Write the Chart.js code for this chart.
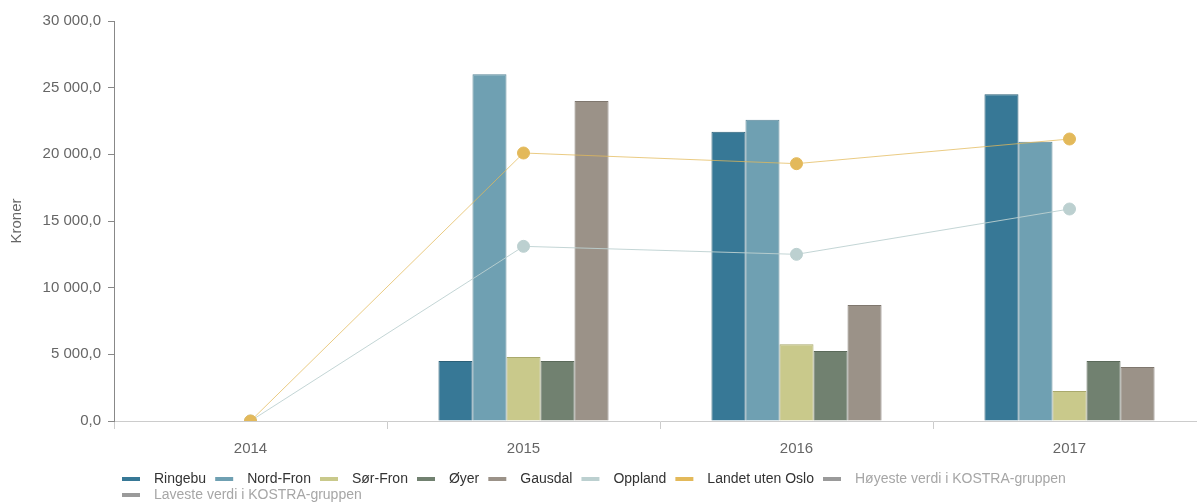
<!DOCTYPE html>
<html lang="no">
<head>
    <meta charset="UTF-8">
    <title>Kroner per år</title>
    <script src="https://cdn.jsdelivr.net/npm/chart.js"></script>
    <style>
        html, body {
            margin: 0;
            padding: 0;
            overflow: hidden;
            background: #fff;
        }
        #kostraChart {
            display: block;
            width: 1206px;
            height: 513px;
        }
    </style>
</head>
<body>

    <canvas id="kostraChart" width="1206" height="513"></canvas>

    <script>
        // Data
        const years = ["2014", "2015", "2016", "2017"];
        const ringebu = [null, 4500, 21700, 24500];
        const nordFron = [null, 26000, 22600, 20950];
        const sorFron = [null, 4800, 5750, 2250];
        const oyer = [null, 4500, 5250, 4500];
        const gausdal = [null, 24000, 8700, 4050];
        const oppland = [0, 13100, 12500, 15900];
        const landetUtenOslo = [0, 20100, 19300, 21150];
        const hoyesteVerdi = [null, null, null, null];
        const lavesteVerdi = [null, null, null, null];
        const yMax = 30000;
        const yStep = 5000;

        const FONT = "'Liberation Sans', Arial, sans-serif";

        // 30 000,0 style numbers
        function formatKroner(v) {
            const parts = v.toFixed(1).split(".");
            return parts[0].replace(/\B(?=(\d{3})+(?!\d))/g, " ") + "," + parts[1];
        }

        // legend marker: short thick line with some room on both sides
        function legendLine(color) {
            const c = document.createElement("canvas");
            c.width = 32;
            c.height = 4;
            const g = c.getContext("2d");
            g.fillStyle = color;
            g.fillRect(7, 0, 18, 4);
            return c;
        }

        function bar(label, data, fill, border) {
            return {
                type: "bar",
                label: label,
                data: data,
                backgroundColor: fill,
                borderColor: border,
                borderWidth: 1,
                legendColor: fill,
                order: 1
            };
        }

        function line(label, data, lineColor, pointColor, order) {
            return {
                type: "line",
                label: label,
                data: data,
                borderColor: lineColor,
                borderWidth: 1,
                backgroundColor: pointColor,
                pointBackgroundColor: pointColor,
                pointBorderColor: pointColor,
                pointBorderWidth: 1,
                pointRadius: 6,
                tension: 0,
                fill: false,
                clip: 0,
                legendColor: pointColor,
                order: order
            };
        }

        const datasets = [
            bar("Ringebu", ringebu, "#377896", "#2b6078"),
            bar("Nord-Fron", nordFron, "#6fa0b2", "#5a8798"),
            bar("Sør-Fron", sorFron, "#c9c98b", "#a9a96c"),
            bar("Øyer", oyer, "#718170", "#5b6a5a"),
            bar("Gausdal", gausdal, "#9b9288", "#7f776e"),
            line("Oppland", oppland, "rgba(188,208,208,0.9)", "#bcd0d0", 0),
            line("Landet uten Oslo", landetUtenOslo, "rgba(227,185,90,0.75)", "#e3b95a", -1),
            Object.assign(line("Høyeste verdi i KOSTRA-gruppen", hoyesteVerdi, "#8c8c8c", "#8c8c8c", 0), { hidden: true }),
            Object.assign(line("Laveste verdi i KOSTRA-gruppen", lavesteVerdi, "#8c8c8c", "#8c8c8c", 0), { hidden: true })
        ];

        // move the legend so it starts under the y axis
        const legendShift = {
            id: "legendShift",
            beforeDraw(chart) {
                if (chart.legend) {
                    chart.legend.left = 113;
                }
            }
        };

        const ctx = document.getElementById("kostraChart").getContext("2d");
        new Chart(ctx, {
            data: {
                labels: years,
                datasets: datasets
            },
            plugins: [legendShift],
            options: {
                responsive: false,
                animation: false,
                categoryPercentage: 0.623,
                barPercentage: 1,
                layout: {
                    autoPadding: false,
                    padding: { left: 4, right: 0, top: 21, bottom: 1 }
                },
                plugins: {
                    tooltip: { enabled: false },
                    legend: {
                        position: "bottom",
                        align: "start",
                        labels: {
                            usePointStyle: true,
                            pointStyleWidth: 32,
                            padding: 2,
                            font: { family: FONT, size: 14 },
                            generateLabels(chart) {
                                return chart.data.datasets.map((ds, i) => ({
                                    text: ds.label,
                                    fillStyle: ds.legendColor,
                                    strokeStyle: ds.legendColor,
                                    lineWidth: 0,
                                    pointStyle: legendLine(ds.hidden ? "#9a9a9a" : ds.legendColor),
                                    fontColor: ds.hidden ? "#a6a6a6" : "#333333",
                                    hidden: false,
                                    datasetIndex: i
                                }));
                            }
                        }
                    }
                },
                scales: {
                    x: {
                        offset: true,
                        grid: {
                            offset: true,
                            drawOnChartArea: false,
                            drawTicks: true,
                            tickLength: 8,
                            color: "#cccccc"
                        },
                        border: { color: "#cccccc", width: 1 },
                        ticks: {
                            padding: 11,
                            color: "#666666",
                            font: { family: FONT, size: 15 }
                        },
                        afterFit(scale) {
                            scale.height += 1;
                        }
                    },
                    y: {
                        min: 0,
                        max: yMax,
                        grid: {
                            drawOnChartArea: false,
                            drawTicks: true,
                            tickLength: 6,
                            color: "#888888"
                        },
                        border: { color: "#888888", width: 1 },
                        ticks: {
                            stepSize: yStep,
                            padding: 7,
                            color: "#666666",
                            font: { family: FONT, size: 15 },
                            callback: (v) => formatKroner(v)
                        },
                        title: {
                            display: true,
                            text: "Kroner",
                            color: "#666666",
                            font: { family: FONT, size: 15 },
                            padding: { top: 4, bottom: 4 }
                        },
                        afterFit(scale) {
                            scale.width = 110;
                        }
                    }
                }
            }
        });
    </script>

</body>
</html>
